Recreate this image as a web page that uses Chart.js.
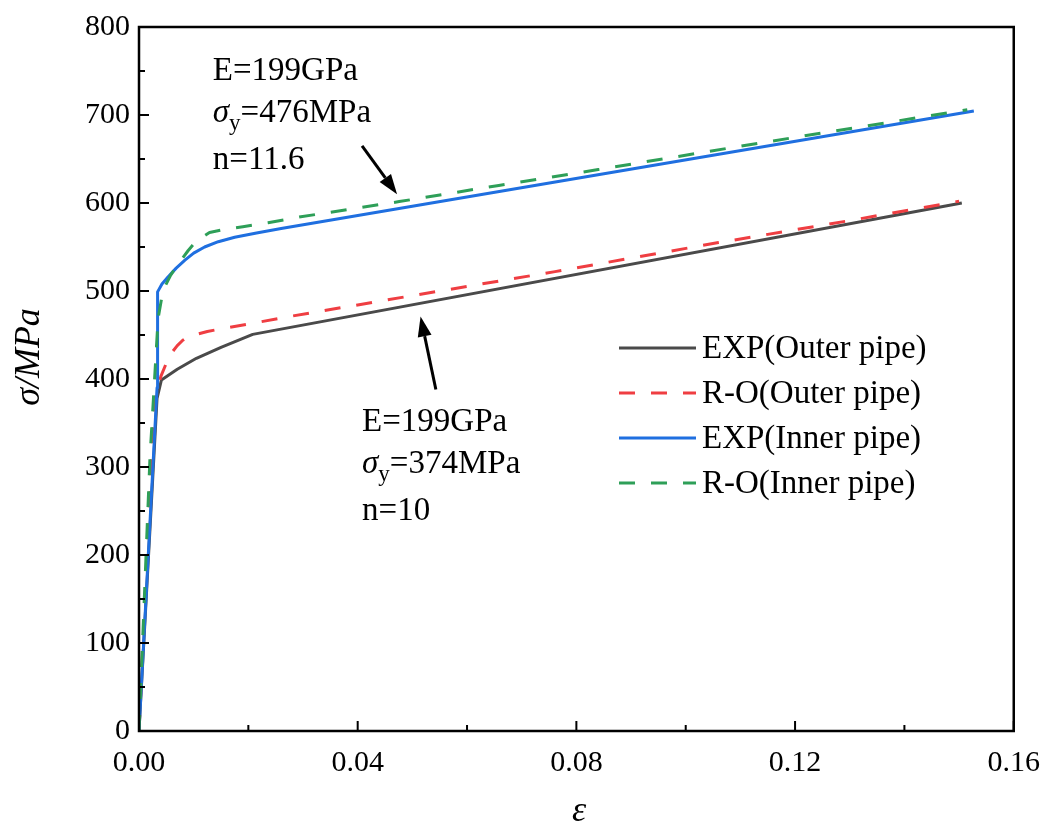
<!DOCTYPE html>
<html>
<head>
<meta charset="utf-8">
<script src="https://cdn.jsdelivr.net/npm/chart.js@4.4.0/dist/chart.umd.min.js"></script>
<style>
  html, body { margin: 0; padding: 0; background: #fff; }
  #wrap { width: 1054px; height: 837px; }
</style>
</head>
<body>
<div id="wrap"><canvas id="stressChart" width="1054" height="837"></canvas></div>
<script>
// ---- data (strain, stress in MPa) ----
const outerExpStrain = [0, 0.0014, 0.0033, 0.0041, 0.0070, 0.0105, 0.0150, 0.0208, 0.1505];
const outerExpStress = [0, 160, 378, 399, 411, 423.5, 436, 450.7, 600];

const outerRoStrain = [0, 0.0026, 0.0032, 0.0040, 0.0050, 0.0060, 0.0070, 0.0080, 0.0090, 0.0125, 0.0154, 0.0214, 0.0275, 0.0512, 0.0761, 0.1060, 0.1300, 0.1500];
const outerRoStress = [0, 352, 385, 403, 418, 430, 438, 444, 448, 454, 457.5, 464, 471, 496, 522, 555, 580, 602];

const innerExpStrain = [0, 0.0014, 0.0033, 0.0034, 0.0042, 0.0053, 0.0068, 0.0084, 0.0100, 0.0120, 0.0145, 0.0175, 0.0215, 0.0260, 0.1527];
const innerExpStress = [0, 165, 390, 499, 508, 516, 526, 535, 543, 550, 556, 561, 566, 571, 704.5];

const innerRoStrain = [0, 0.0020, 0.0035, 0.0044, 0.0058, 0.0072, 0.0090, 0.0105, 0.0129, 0.0162, 0.0190, 0.0236, 0.0293, 0.0476, 0.0658, 0.0840, 0.1144, 0.1515];
const innerRoStress = [0, 310, 469, 501, 518, 531, 546, 557, 566.5, 570.6, 573, 577.5, 584, 601.6, 620, 638, 669, 706];

const seriesNames = ['EXP(Outer pipe)', 'R-O(Outer pipe)', 'EXP(Inner pipe)', 'R-O(Inner pipe)'];

const xTicks = [0, 0.04, 0.08, 0.12, 0.16];
const xMinorTicks = [0.02, 0.06, 0.10, 0.14];
const yTicks = [0, 100, 200, 300, 400, 500, 600, 700, 800];
const yMinorTicks = [50, 150, 250, 350, 450, 550, 650, 750];

const SERIF = '"Liberation Serif", "Times New Roman", serif';

function toPoints(xs, ys) {
    return xs.map((x, i) => ({ x: x, y: ys[i] }));
}

// annotation blocks (anchor = baseline of first line, in data units)
const notes = [
    { x: 0.0135, y: 740, E: 'E=199GPa', sy: '=476MPa', n: 'n=11.6' },
    { x: 0.0408, y: 340.6, E: 'E=199GPa', sy: '=374MPa', n: 'n=10' }
];
const arrows = [
    { from: [0.0408, 665], to: [0.0472, 610] },
    { from: [0.0543, 388], to: [0.0515, 471] }
];

// ---- custom drawing: frame, inward ticks, legend, notes, axis titles ----
const decorPlugin = {
    id: 'decor',
    afterDraw(chart) {
        const ctx = chart.ctx;
        const area = chart.chartArea;
        const xs = chart.scales.x, ys = chart.scales.y;
        ctx.save();

        // frame
        ctx.strokeStyle = '#000';
        ctx.lineWidth = 2.5;
        ctx.strokeRect(area.left, area.top, area.right - area.left, area.bottom - area.top);

        // inward ticks
        ctx.lineWidth = 2;
        ctx.beginPath();
        xTicks.forEach(v => { const px = xs.getPixelForValue(v); ctx.moveTo(px, area.bottom); ctx.lineTo(px, area.bottom - 10); });
        xMinorTicks.forEach(v => { const px = xs.getPixelForValue(v); ctx.moveTo(px, area.bottom); ctx.lineTo(px, area.bottom - 6); });
        yTicks.forEach(v => { const py = ys.getPixelForValue(v); ctx.moveTo(area.left, py); ctx.lineTo(area.left + 10, py); });
        yMinorTicks.forEach(v => { const py = ys.getPixelForValue(v); ctx.moveTo(area.left, py); ctx.lineTo(area.left + 6, py); });
        ctx.stroke();

        // legend
        const lgX = 619, lgY = 348, lgGap = 45;
        chart.data.datasets.forEach((ds, i) => {
            const yy = lgY + i * lgGap;
            ctx.strokeStyle = ds.borderColor;
            ctx.lineWidth = ds.borderWidth;
            ctx.setLineDash(ds.borderDash || []);
            ctx.beginPath();
            ctx.moveTo(lgX, yy);
            ctx.lineTo(lgX + 77, yy);
            ctx.stroke();
            ctx.setLineDash([]);
            ctx.fillStyle = '#000';
            ctx.font = '33px ' + SERIF;
            ctx.textBaseline = 'middle';
            ctx.textAlign = 'left';
            ctx.fillText(ds.label, lgX + 83, yy + 1);
        });

        // parameter notes
        notes.forEach(nt => {
            const px = xs.getPixelForValue(nt.x);
            const py = ys.getPixelForValue(nt.y);
            ctx.fillStyle = '#000';
            ctx.textBaseline = 'alphabetic';
            ctx.textAlign = 'left';
            ctx.font = '33px ' + SERIF;
            ctx.fillText(nt.E, px, py);
            ctx.font = 'italic 33px ' + SERIF;
            ctx.fillText('\u03C3', px, py + 42);
            let w = ctx.measureText('\u03C3').width;
            ctx.font = '23px ' + SERIF;
            ctx.fillText('y', px + w, py + 50);
            w += ctx.measureText('y').width;
            ctx.font = '33px ' + SERIF;
            ctx.fillText(nt.sy, px + w, py + 42);
            ctx.fillText(nt.n, px, py + 89);
        });

        // arrows
        ctx.strokeStyle = '#000';
        ctx.fillStyle = '#000';
        arrows.forEach(a => {
            const x1 = xs.getPixelForValue(a.from[0]), y1 = ys.getPixelForValue(a.from[1]);
            const x2 = xs.getPixelForValue(a.to[0]), y2 = ys.getPixelForValue(a.to[1]);
            const ang = Math.atan2(y2 - y1, x2 - x1);
            const hl = 20, hw = 7;
            const bx = x2 - hl * Math.cos(ang), by = y2 - hl * Math.sin(ang);
            ctx.lineWidth = 3;
            ctx.beginPath();
            ctx.moveTo(x1, y1);
            ctx.lineTo(bx, by);
            ctx.stroke();
            ctx.beginPath();
            ctx.moveTo(x2, y2);
            ctx.lineTo(bx + hw * Math.sin(ang), by - hw * Math.cos(ang));
            ctx.lineTo(bx - hw * Math.sin(ang), by + hw * Math.cos(ang));
            ctx.closePath();
            ctx.fill();
        });

        // axis titles
        ctx.fillStyle = '#000';
        ctx.font = 'italic 36px ' + SERIF;
        ctx.textAlign = 'center';
        ctx.textBaseline = 'middle';
        ctx.fillText('\u03B5', 579, 812);
        ctx.save();
        ctx.translate(30, 357);
        ctx.rotate(-Math.PI / 2);
        ctx.fillText('\u03C3/MPa', 0, 0);
        ctx.restore();

        ctx.restore();
    }
};

const ctx = document.getElementById('stressChart').getContext('2d');
new Chart(ctx, {
    type: 'line',
    data: {
        datasets: [
            { label: seriesNames[0], data: toPoints(outerExpStrain, outerExpStress), borderColor: '#4a4a4a', borderWidth: 3, order: 3 },
            { label: seriesNames[1], data: toPoints(outerRoStrain, outerRoStress), borderColor: '#ef3e42', borderWidth: 3, borderDash: [16, 16], order: 2 },
            { label: seriesNames[2], data: toPoints(innerExpStrain, innerExpStress), borderColor: '#1f6fe0', borderWidth: 3, order: 1 },
            { label: seriesNames[3], data: toPoints(innerRoStrain, innerRoStress), borderColor: '#2e9f58', borderWidth: 3, borderDash: [16, 16], order: 0 }
        ]
    },
    options: {
        responsive: false,
        animation: false,
        devicePixelRatio: 1,
        elements: {
            point: { radius: 0 },
            line: { tension: 0, fill: false, borderCapStyle: 'butt', borderJoinStyle: 'round' }
        },
        layout: { padding: { left: 0, top: 24, right: 37, bottom: 0 } },
        plugins: {
            legend: { display: false },
            tooltip: { enabled: false }
        },
        scales: {
            x: {
                type: 'linear',
                min: 0, max: 0.16,
                afterFit: s => { s.height = 106; },
                afterBuildTicks: s => { s.ticks = xTicks.map(v => ({ value: v })); },
                grid: { display: false, drawTicks: false, tickLength: 0 },
                border: { display: false },
                ticks: {
                    padding: 14,
                    color: '#000',
                    font: { family: SERIF, size: 30 },
                    callback: v => v.toFixed(2)
                }
            },
            y: {
                type: 'linear',
                min: 0, max: 800,
                afterFit: s => { s.width = 139; },
                afterBuildTicks: s => { s.ticks = yTicks.map(v => ({ value: v })); },
                grid: { display: false, drawTicks: false, tickLength: 0 },
                border: { display: false },
                ticks: {
                    padding: 9,
                    color: '#000',
                    font: { family: SERIF, size: 30 },
                    callback: v => String(v)
                }
            }
        }
    },
    plugins: [decorPlugin]
});
</script>
</body>
</html>
